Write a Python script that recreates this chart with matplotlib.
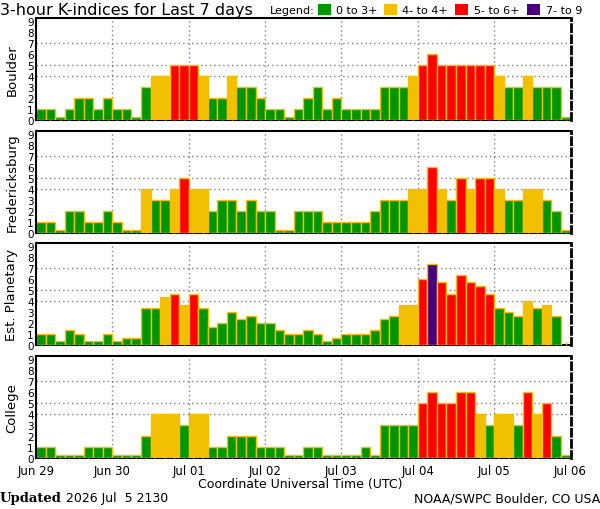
import numpy as np
import matplotlib
matplotlib.use("Agg")
import matplotlib.pyplot as plt
from matplotlib.patches import Rectangle

# ---------------- data ----------------
stations = ["Boulder", "Fredericksburg", "Est. Planetary", "College"]
day_labels = ["Jun 29", "Jun 30", "Jul 01", "Jul 02", "Jul 03", "Jul 04", "Jul 05", "Jul 06"]

boulder = [1, 1, 0, 1, 2, 2, 1, 2,
           1, 1, 0, 3, 4, 4, 5, 5,
           5, 4, 2, 2, 4, 3, 3, 2,
           1, 1, 0, 1, 2, 3, 1, 2,
           1, 1, 1, 1, 3, 3, 3, 4,
           5, 6, 5, 5, 5, 5, 5, 5,
           4, 3, 3, 4, 3, 3, 3, 0]

fredericksburg = [1, 1, 0, 2, 2, 1, 1, 2,
                  1, 0, 0, 4, 3, 3, 4, 5,
                  4, 4, 2, 3, 3, 2, 3, 2,
                  2, 0, 0, 2, 2, 2, 1, 1,
                  1, 1, 1, 2, 3, 3, 3, 4,
                  4, 6, 4, 3, 5, 4, 5, 5,
                  4, 3, 3, 4, 4, 3, 2, 0]

planetary = [1, 1, 0.33, 1.33, 1, 0.33, 0.33, 1,
             0.33, 0.67, 0.67, 3.33, 3.33, 4.33, 4.67, 3.67,
             4.67, 3.33, 1.67, 2, 3, 2.33, 2.67, 2,
             2, 1.33, 1, 1, 1.33, 1, 0.33, 0.67,
             1, 1, 1, 1.33, 2.33, 2.67, 3.67, 3.67,
             6, 7.33, 5.67, 4.67, 6.33, 5.67, 5.33, 4.67,
             3.33, 3, 2.67, 4, 3.33, 3.67, 2.67, np.nan]

college = [1, 1, 0, 0, 0, 1, 1, 1,
           0, 0, 0, 2, 4, 4, 4, 3,
           4, 4, 1, 1, 2, 2, 2, 1,
           1, 1, 0, 0, 1, 1, 0, 0,
           0, 0, 1, 0, 3, 3, 3, 3,
           5, 6, 5, 5, 6, 6, 4, 3,
           4, 4, 3, 6, 4, 5, 2, 0]

series = [boulder, fredericksburg, planetary, college]

legend_labels = ["0 to 3+", "4- to 4+", "5- to 6+", "7- to 9"]

# ---------------- style ----------------
GREEN = "#009600"
YELLOW = "#F2C000"
RED = "#FF0000"
PURPLE = "#46007F"
EDGE = "#F2C000"
GRID = "#808080"
legend_colors = [GREEN, YELLOW, RED, PURPLE]

plt.rcParams['font.family'] = ['DejaVu Sans']

W, H = 600, 510
fig = plt.figure(figsize=(W / 100, H / 100), dpi=100)
fig.patch.set_facecolor("white")

def fx(px):
    return px / W

def fy(py):
    return 1 - py / H

def color_for(v):
    if v <= 3.34:
        return GREEN
    if v <= 4.34:
        return YELLOW
    if v <= 6.34:
        return RED
    return PURPLE

left_px, right_px = 36, 570.5
tops = [19, 132, 244, 357]
height_px = 102

nb = 56
for k, (name, vals) in enumerate(zip(stations, series)):
    top = tops[k]
    ax = fig.add_axes([fx(left_px), fy(top + height_px), fx(right_px - left_px), height_px / H])
    vals = np.array(vals, dtype=float)
    x = np.arange(nb) + 0.5
    heights = np.where(vals == 0, 0.25, vals)
    mask = ~np.isnan(vals)
    cols = [color_for(v) for v in vals[mask]]
    ax.bar(x[mask], heights[mask], width=1.0, color=cols,
           edgecolor=EDGE, linewidth=1.0, zorder=2)
    ax.set_xlim(0, nb)
    ax.set_ylim(0, 9.25)
    # grid lines
    for gy in [4, 5, 7]:
        ax.axhline(gy, color=GRID, linestyle=(0, (1, 2.2)), linewidth=1.0, zorder=0.5)
    for d in range(1, 7):
        ax.axvline(d * 8, color=GRID, linestyle=(0, (1, 2.2)), linewidth=1.0, zorder=0.5)
    ax.set_yticks(range(10))
    ax.set_yticklabels([str(i) for i in range(10)], fontsize=7.5)
    ax.tick_params(axis='y', length=0, pad=1.5)
    ax.set_xticks(np.arange(0, nb + 1, 8))
    ax.set_xticks(x, minor=True)
    ax.tick_params(axis='x', which='major', length=0, pad=4)
    ax.tick_params(axis='x', which='minor', direction='in', length=2.5, width=1, color=YELLOW)
    if k == 3:
        ax.set_xticklabels(day_labels, fontsize=8.5)
    else:
        ax.set_xticklabels([])
    for s in ['top', 'left', 'bottom']:
        ax.spines[s].set_linewidth(1.5)
        ax.spines[s].set_color('black')
    ax.spines['bottom'].set_zorder(1.5)
    ax.spines['right'].set_linestyle((0, (2.5, 1.5)))
    ax.spines['right'].set_linewidth(2)
    ax.spines['right'].set_zorder(3)
    fig.text(fx(12), fy(top + height_px / 2), name, rotation=90, ha='center', va='center',
             fontsize=9.5)

# title
fig.text(fx(0), fy(10.5), "3-hour K-indices for Last 7 days", ha='left', va='center', fontsize=11.5)

# legend
fig.text(fx(270), fy(11), "Legend:", ha='left', va='center', fontsize=8)
sq_x = [318, 384, 455, 527]
txt_x = [336, 402, 474, 546]
for c, lab, sx, tx in zip(legend_colors, legend_labels, sq_x, txt_x):
    fig.patches.append(Rectangle((fx(sx), fy(16)), 13 / W, 11 / H, transform=fig.transFigure,
                                 facecolor=c, edgecolor='none'))
    fig.text(fx(tx), fy(11), lab, ha='left', va='center', fontsize=8)

# bottom texts
fig.text(fx(300), fy(485), "Coordinate Universal Time (UTC)", ha='center', va='center', fontsize=9)
fig.text(fx(0), fy(499), "Updated", ha='left', va='center', fontsize=9.5,
         family='DejaVu Serif', weight='bold')
fig.text(fx(66), fy(499), "2026 Jul  5 2130", ha='left', va='center', fontsize=9)
fig.text(fx(600), fy(499), "NOAA/SWPC Boulder, CO USA", ha='right', va='center', fontsize=9)

fig.savefig("out.png", dpi=100, facecolor="white")
